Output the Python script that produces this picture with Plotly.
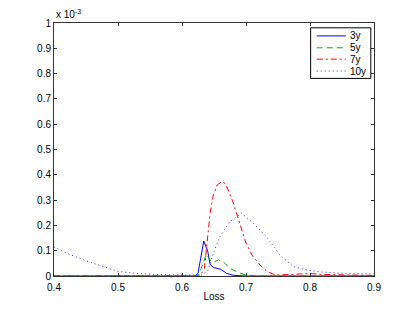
import plotly.graph_objects as go

# values in units of 1e-3
x_3y = [0.40, 0.620, 0.625, 0.630, 0.634, 0.640, 0.644, 0.650, 0.660, 0.670, 0.680, 0.700, 0.900]
y_3y = [0.0, 0.0, 0.01, 0.09, 0.138, 0.10, 0.045, 0.033, 0.027, 0.010, 0.003, 0.0, 0.0]

x_5y = [0.40, 0.625, 0.630, 0.638, 0.645, 0.650, 0.657, 0.665, 0.675, 0.690, 0.700, 0.720, 0.900]
y_5y = [0.0, 0.0, 0.03, 0.087, 0.058, 0.055, 0.064, 0.055, 0.030, 0.012, 0.004, 0.0, 0.0]

x_7y = [0.40, 0.628, 0.635, 0.639, 0.644, 0.649, 0.655, 0.662, 0.668, 0.680, 0.690, 0.700, 0.710,
        0.722, 0.732, 0.742, 0.750, 0.780, 0.800, 0.820, 0.850, 0.900]
y_7y = [0.0, 0.0, 0.03, 0.12, 0.25, 0.32, 0.36, 0.373, 0.365, 0.29, 0.21, 0.13, 0.08,
        0.043, 0.02, 0.008, 0.004, 0.006, 0.010, 0.006, 0.004, 0.002]

x_10y = [0.40, 0.42, 0.45, 0.48, 0.50, 0.53, 0.56, 0.60, 0.630, 0.640, 0.649, 0.659, 0.675, 0.693,
         0.711, 0.732, 0.753, 0.774, 0.795, 0.816, 0.857, 0.900]
y_10y = [0.115, 0.09, 0.06, 0.035, 0.018, 0.010, 0.006, 0.004, 0.003, 0.02, 0.09, 0.155, 0.215, 0.248,
         0.21, 0.155, 0.083, 0.037, 0.024, 0.016, 0.010, 0.008]

series_names = ["3y", "5y", "7y", "10y"]
x_ticks = [0.4, 0.5, 0.6, 0.7, 0.8, 0.9]
y_ticks = [0, 0.1, 0.2, 0.3, 0.4, 0.5, 0.6, 0.7, 0.8, 0.9, 1.0]
y_tick_text = ["0", "0.1", "0.2", "0.3", "0.4", "0.5", "0.6", "0.7", "0.8", "0.9", "1"]

FONT = "Liberation Sans, Arial, sans-serif"
styles = [
    dict(color="rgb(0,0,255)", width=1, dash="solid"),
    dict(color="rgb(0,170,0)", width=1, dash="6px,4px"),
    dict(color="rgb(255,0,0)", width=1, dash="6px,3px,2px,3px"),
    dict(color="rgb(40,40,255)", width=1, dash="1px,3px"),
]

fig = go.Figure()
for name, xs, ys, st in zip(series_names, [x_3y, x_5y, x_7y, x_10y],
                            [y_3y, y_5y, y_7y, y_10y], styles):
    fig.add_trace(go.Scatter(x=xs, y=ys, mode="lines", name=name, line=st, showlegend=False))

axis_common = dict(showline=True, linecolor="#333", linewidth=1, mirror="allticks",
                   ticks="inside", ticklen=3, tickcolor="#333", showgrid=False, zeroline=False,
                   automargin=False,
                   tickfont=dict(family=FONT, size=10, color="#000"))

# page body has an 8px margin, so margins are offset to land the plot at the reference position
fig.update_layout(
    width=413, height=311,
    margin=dict(l=46, r=47, t=15, b=43, autoexpand=False),
    paper_bgcolor="white", plot_bgcolor="white",
    font=dict(family=FONT, size=10, color="#000"),
    xaxis=dict(range=[0.4, 0.9], tickvals=x_ticks, ticktext=[f"{v:g}" for v in x_ticks],
               ticklabelstandoff=2,
               title=dict(text="Loss", font=dict(family=FONT, size=10), standoff=0),
               **axis_common),
    yaxis=dict(range=[0, 1.0], tickvals=y_ticks, ticktext=y_tick_text, **axis_common),
    showlegend=False,
)
fig.add_annotation(xref="paper", yref="paper", x=0, y=1, xanchor="left", yanchor="bottom",
                   yshift=1, text="x 10<sup>-3</sup>", showarrow=False,
                   font=dict(family=FONT, size=10))

# legend box (drawn manually to match compact spacing)
fig.add_shape(type="rect", xref="paper", yref="paper", x0=0.802, x1=0.990, y0=0.781, y1=0.981,
              line=dict(color="#000", width=1), fillcolor="white", layer="above")
leg_y = [0.949, 0.902, 0.857, 0.810]
for name, st, ly in zip(series_names, styles, leg_y):
    fig.add_shape(type="line", xref="paper", yref="paper", x0=0.821, x1=0.912, y0=ly, y1=ly,
                  line=st, layer="above")
    fig.add_annotation(xref="paper", yref="paper", x=0.918, y=ly, xanchor="left", yanchor="middle",
                       text=name, showarrow=False, font=dict(family=FONT, size=10))

fig.write_html("out.html")
